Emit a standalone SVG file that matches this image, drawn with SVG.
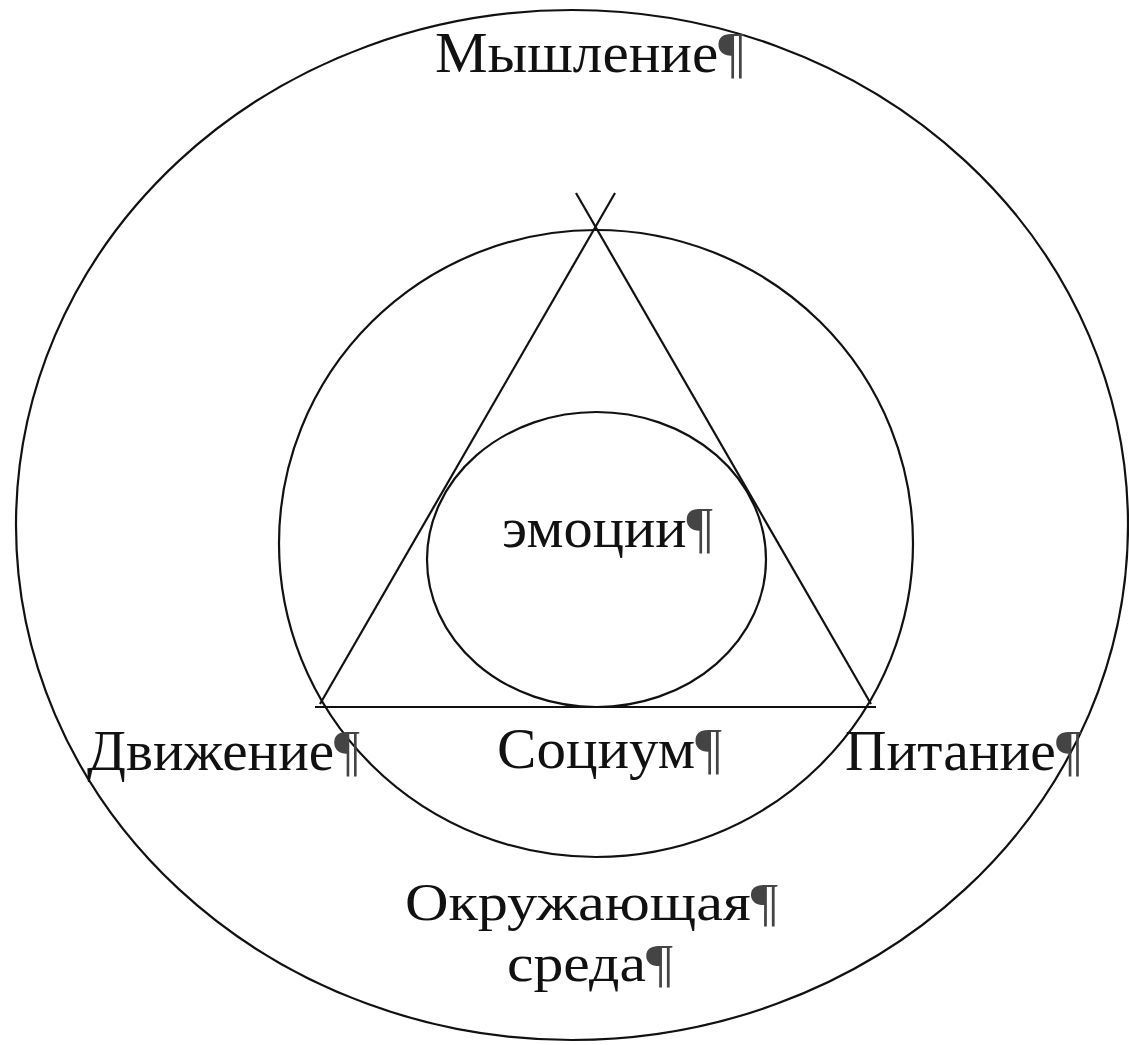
<svg xmlns="http://www.w3.org/2000/svg" width="1129" height="1045" viewBox="0 0 1129 1045">
<style>
.ln{fill:none;stroke:#111;stroke-width:2.2}
.t{font-family:"Liberation Serif","Times New Roman",serif;font-size:57px;fill:#111}
.s{font-size:52px}
.p{fill:#444}
</style>
<rect width="1129" height="1045" fill="#fff"/>
<g id="outer"><ellipse class="ln" cx="572" cy="525" rx="556" ry="515"/></g>
<g id="middle"><ellipse class="ln" cx="596" cy="543.5" rx="317" ry="313.5"/></g>
<g id="inner"><ellipse class="ln" cx="596.5" cy="559.5" rx="169.5" ry="147.5"/></g>
<g id="triangle">
<line class="ln" x1="320" y1="704" x2="615" y2="193"/>
<line class="ln" x1="871" y1="704" x2="576" y2="193"/>
<line class="ln" x1="315" y1="707" x2="876" y2="707"/>
</g>
<g id="labels">
<text class="t" x="435" y="72" textLength="310" lengthAdjust="spacingAndGlyphs">Мышление<tspan class="p">¶</tspan></text>
<text class="t" x="502" y="547" textLength="211" lengthAdjust="spacingAndGlyphs">эмоции<tspan class="p">¶</tspan></text>
<text class="t" x="87" y="770" textLength="273" lengthAdjust="spacingAndGlyphs">Движение<tspan class="p">¶</tspan></text>
<text class="t" x="497" y="768" textLength="225" lengthAdjust="spacingAndGlyphs">Социум<tspan class="p">¶</tspan></text>
<text class="t" x="845" y="770" textLength="237" lengthAdjust="spacingAndGlyphs">Питание<tspan class="p">¶</tspan></text>
<text class="t s" x="405" y="920" textLength="373" lengthAdjust="spacingAndGlyphs">Окружающая<tspan class="p">¶</tspan></text>
<text class="t s" x="507" y="981" textLength="166" lengthAdjust="spacingAndGlyphs">среда<tspan class="p">¶</tspan></text>
</g>
</svg>
